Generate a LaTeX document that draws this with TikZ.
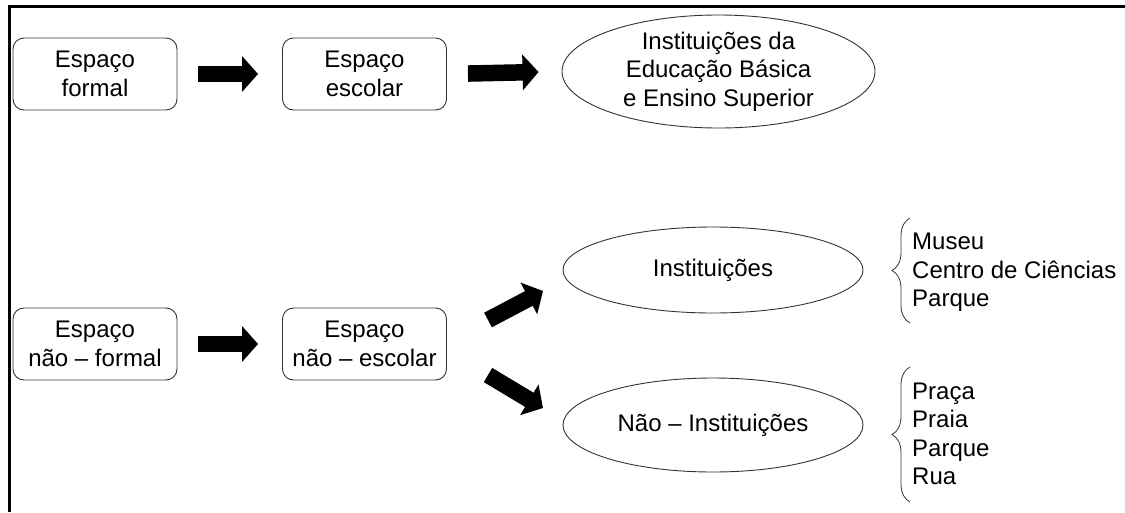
\documentclass[tikz,border=0pt]{standalone}
\usepackage{fontspec}
\setmainfont{Liberation Sans}
\usetikzlibrary{shapes.geometric,arrows.meta,decorations.pathreplacing}
\begin{document}
\begin{tikzpicture}[x=1pt,y=-1pt,
  every node/.style={font=\fontsize{24}{28.5}\selectfont},
  box/.style={draw=black!80,line width=0.9pt,rounded corners=11pt,minimum width=164pt,minimum height=72pt,align=center,inner sep=0pt},
  oval/.style={draw=black!80,line width=0.9pt,ellipse,align=center,inner sep=0pt},
  fat/.style={line width=16.5pt,-{Triangle[length=16pt,width=35pt]},black},
  brc/.style={decorate,decoration={brace,amplitude=18pt},line width=0.8pt,draw=black!80},
  list/.style={anchor=west,align=left,inner sep=0pt}]
\useasboundingbox (0,0) rectangle (1125,512);
\draw[line width=3pt] (9,512) -- (9,6) -- (1125,6);
% top row
\node[box] (b1) at (95,74) {Espaço\\formal};
\node[box] (b2) at (364.5,74) {Espaço\\escolar};
\node[oval,inner sep=-6pt,minimum width=313pt,minimum height=113pt] (e1) at (718.5,71.5) {Instituições da\\Educação Básica\\e Ensino Superior};
% bottom row
\node[box] (b3) at (95,344) {Espaço\\não – formal};
\node[box] (b4) at (364.5,344) {Espaço\\não – escolar};
\node[oval,minimum width=300pt,minimum height=86pt] (e2) at (713,270) {Instituições};
\node[oval,minimum width=300pt,minimum height=94pt] (e3) at (713,425) {Não – Instituições};
% lists
\node[list] (l1) at (912,272.4) {Museu\\Centro de Ciências\\Parque};
\node[list] (l2) at (912,433.9) {Praça\\Praia\\Parque\\Rua};
% fat arrows
\draw[fat,shorten <=21pt,shorten >=24pt] (b1.east) -- (b2.west);
\draw[fat,shorten <=21pt,shorten >=23pt] (b2.east) -- (e1.west);
\draw[fat,shorten <=21pt,shorten >=24pt] (b3.east) -- (b4.west);
\coordinate (u0) at (488,320);
\coordinate (u1) at (543,291);
\coordinate (d0) at (488,375);
\coordinate (d1) at (543,408);
\draw[fat] (u0) -- (u1);
\draw[fat] (d0) -- (d1);
% braces
\coordinate (r1a) at (910,323);
\coordinate (r1b) at (910,218);
\coordinate (r2a) at (910,502);
\coordinate (r2b) at (910,367);
\draw[brc] (r1a) -- (r1b);
\draw[brc] (r2a) -- (r2b);
\end{tikzpicture}
\end{document}
